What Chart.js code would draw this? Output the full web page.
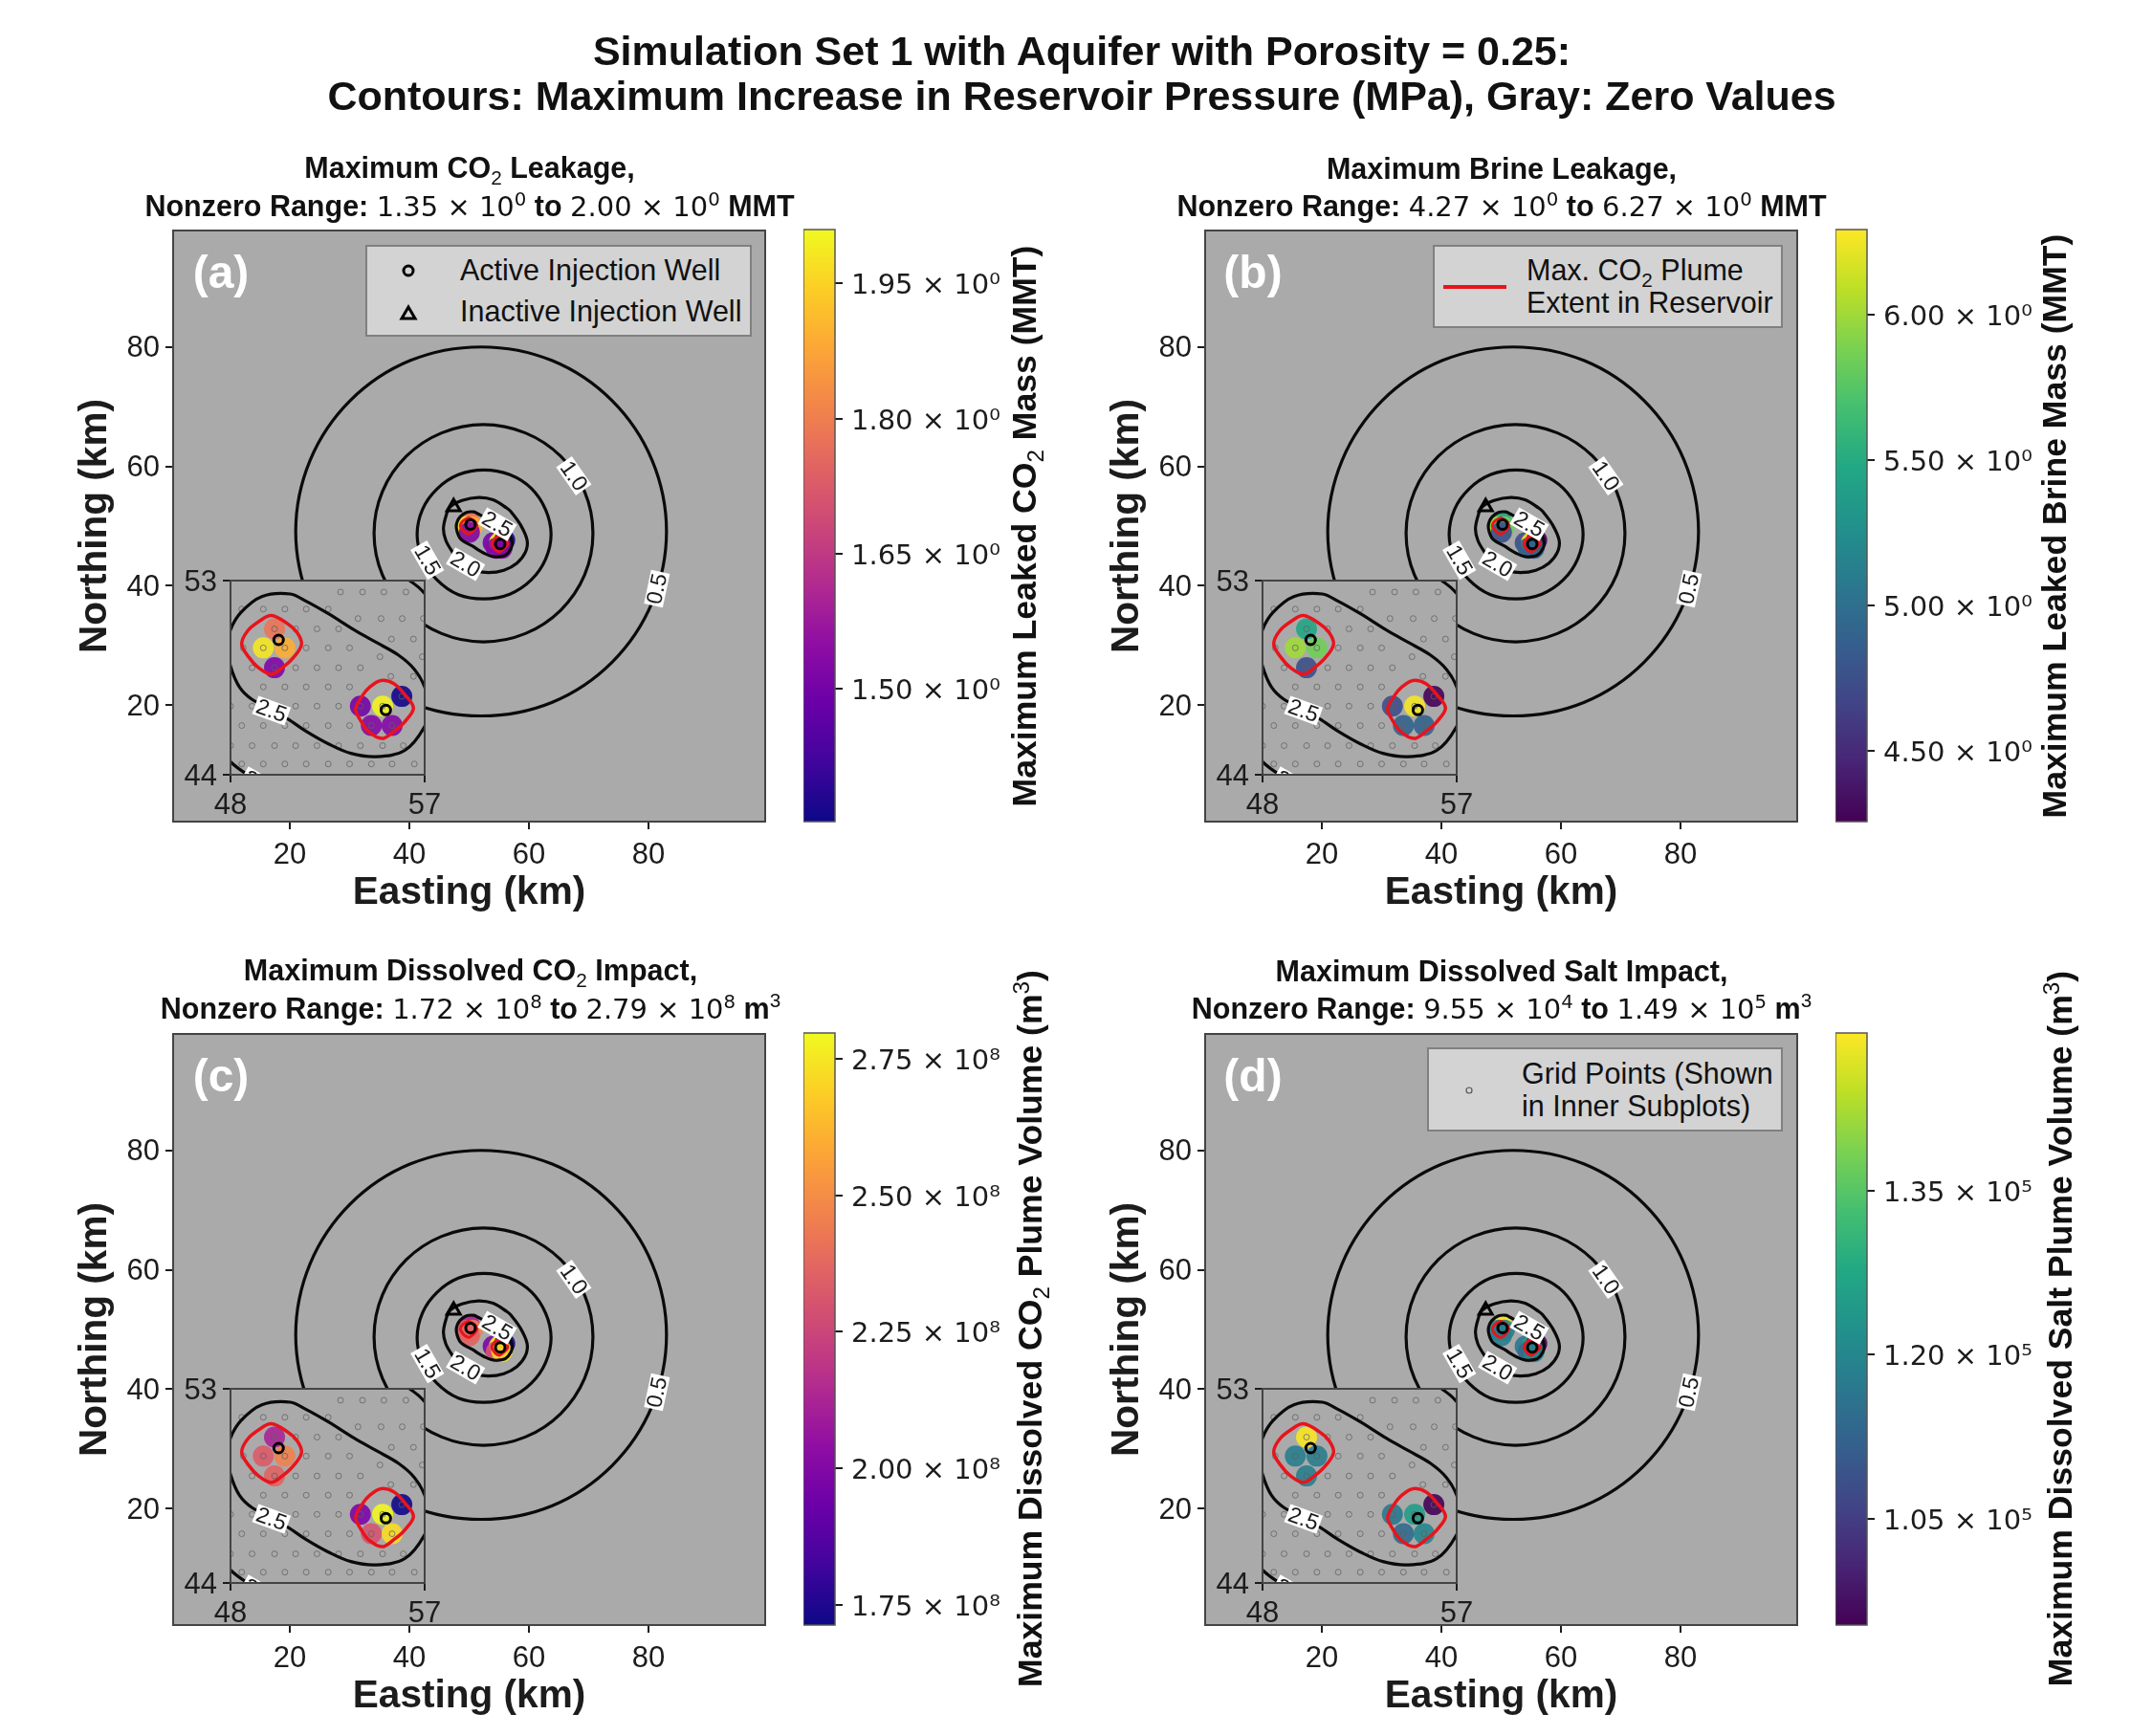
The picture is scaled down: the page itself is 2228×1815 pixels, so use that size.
<!DOCTYPE html>
<html>
<head>
<meta charset="utf-8">
<script src="https://cdn.jsdelivr.net/npm/chart.js@4"></script>
<style>
html, body { margin: 0; background: #fff; }
#page { position: relative; width: 2228px; height: 1815px; overflow: hidden; filter: blur(0.6px); font-family: "Liberation Sans", Arial, sans-serif; color: #111; }
canvas { position: absolute; }
.txt { position: absolute; white-space: nowrap; transform: translate(-50%, -50%); font-weight: bold; }
.main { font-size: 43px; }
.sub { font-size: 30.5px; }
.m { font-family: "DejaVu Sans", sans-serif; font-weight: normal; font-size: 0.95em; }
sub, sup { font-size: 0.68em; line-height: 0; font-weight: normal; }
.cb { font-size: 35.6px; transform: translate(-50%, -50%) rotate(-90deg); }
.letter { font-size: 48px; color: #fff; }
.legend { position: absolute; background: #d3d3d3; border: 2px solid #808080; box-sizing: border-box; font-size: 30.5px; z-index: 5; }
.legend span { position: absolute; white-space: nowrap; line-height: 32px; }
.legend svg { position: absolute; left: 0; top: 0; }
</style>
</head>
<body>
<div id="page">
  <div class="txt main" style="left:1131px;top:53px">Simulation Set 1 with Aquifer with Porosity = 0.25:</div>
  <div class="txt main" style="left:1131px;top:100px">Contours: Maximum Increase in Reservoir Pressure (MPa), Gray: Zero Values</div>

  <div class="txt sub" style="left:491px;top:175px">Maximum CO<sub>2</sub> Leakage,</div>
  <div class="txt sub" style="left:491px;top:215px">Nonzero Range: <span class="m">1.35 × 10<sup>0</sup></span> to <span class="m">2.00 × 10<sup>0</sup></span> MMT</div>
  <div class="txt sub" style="left:1570px;top:176px">Maximum Brine Leakage,</div>
  <div class="txt sub" style="left:1570px;top:215px">Nonzero Range: <span class="m">4.27 × 10<sup>0</sup></span> to <span class="m">6.27 × 10<sup>0</sup></span> MMT</div>
  <div class="txt sub" style="left:492px;top:1014px">Maximum Dissolved CO<sub>2</sub> Impact,</div>
  <div class="txt sub" style="left:492px;top:1054px">Nonzero Range: <span class="m">1.72 × 10<sup>8</sup></span> to <span class="m">2.79 × 10<sup>8</sup></span> m<sup>3</sup></div>
  <div class="txt sub" style="left:1570px;top:1015px">Maximum Dissolved Salt Impact,</div>
  <div class="txt sub" style="left:1570px;top:1054px">Nonzero Range: <span class="m">9.55 × 10<sup>4</sup></span> to <span class="m">1.49 × 10<sup>5</sup></span> m<sup>3</sup></div>

  <div class="txt cb" style="left:1071px;top:550px">Maximum Leaked CO<sub>2</sub> Mass (MMT)</div>
  <div class="txt cb" style="left:2148px;top:550px">Maximum Leaked Brine Mass (MMT)</div>
  <div class="txt cb" style="left:1077px;top:1389px">Maximum Dissolved CO<sub>2</sub> Plume Volume (m<sup>3</sup>)</div>
  <div class="txt cb" style="left:2154px;top:1389px">Maximum Dissolved Salt Plume Volume (m<sup>3</sup>)</div>

  <div class="legend" style="left:382px;top:256px;width:404px;height:96px">
    <svg width="404" height="96">
      <circle cx="43" cy="25" r="5" fill="none" stroke="#000" stroke-width="3"/>
      <path d="M43 63 L50 75 L36 75 Z" fill="none" stroke="#000" stroke-width="3"/>
    </svg>
    <span style="left:97px;top:8px">Active Injection Well</span>
    <span style="left:97px;top:51px">Inactive Injection Well</span>
  </div>
  <div class="legend" style="left:1498px;top:256px;width:366px;height:87px">
    <svg width="366" height="87"><line x1="9" y1="42" x2="75" y2="42" stroke="#e8141c" stroke-width="4"/></svg>
    <span style="left:96px;top:8px">Max. CO<sub>2</sub> Plume</span>
    <span style="left:96px;top:42px">Extent in Reservoir</span>
  </div>
  <div class="legend" style="left:1492px;top:1095px;width:372px;height:88px">
    <svg width="372" height="88"><circle cx="42" cy="43" r="3" fill="none" stroke="#555" stroke-width="1.2"/></svg>
    <span style="left:97px;top:9px">Grid Points (Shown</span>
    <span style="left:97px;top:43px">in Inner Subplots)</span>
  </div>
</div>

<script>
// Axis ticks
const mainTicks = [20, 40, 60, 80];
const insetXTicks = [48, 57];
const insetYTicks = [44, 53];

// Pressure contours in km (a) and the inset
const contour05 = [[52,80],[63.9,77.7],[73.9,71],[80.6,61],[83,49.1],[80.6,37.2],[73.9,27.2],[63.9,20.5],[52,18.2],[40.1,20.5],[30.1,27.2],[23.4,37.2],[21,49.1],[23.4,61],[30.1,71],[40.1,77.7]];
const contour10 = [[52.4,67],[59.4,65.6],[65.3,61.7],[69.3,55.8],[70.7,48.8],[69.3,41.8],[65.3,35.9],[59.4,32],[52.4,30.6],[45.4,32],[39.5,35.9],[35.5,41.8],[34.1,48.8],[35.5,55.8],[39.5,61.7],[45.4,65.6]];
const contour15 = [[52.5,59.4],[56.8,58.6],[60.4,56.3],[62.8,52.7],[63.7,48.6],[62.8,44.5],[60.4,41],[56.8,38.6],[52.5,37.8],[48.2,38.5],[44.6,41],[42.2,44.5],[41.3,48.6],[42.2,52.8],[44.6,56.2],[48.2,58.6]];
const contour20 = [[51.6,54.8],[54,54.4],[56.3,53],[57,52.4],[58.6,50.2],[59.7,47.6],[59.4,45.6],[58,43.8],[55.8,42.6],[53.2,42.2],[51.2,42.6],[48.8,44],[48,44.6],[47.3,45.5],[46.1,47.6],[45.7,49.5],[46.1,51.6],[46.8,53.2],[48.8,54.3]];
const contour25 = [[48,50.72],[48.49,51.53],[49.45,52.26],[50.77,52.38],[51.51,52.04],[52.54,51.46],[53.72,50.72],[54.76,50.13],[55.79,49.54],[56.53,48.88],[57,48.07],[57.19,47.12],[57,46.24],[56.08,45.13],[54.76,44.84],[53.58,44.99],[52.54,45.43],[51.51,46.01],[50.63,46.6],[49,47.49],[48.41,48.07],[48,49.03],[47.85,49.91]];

// CO2 plume outlines
const plumeLeft = [[49.89,51.38],[50.63,51.01],[51.1,50.57],[51.29,50.03],[50.89,49.4],[50.4,48.96],[49.89,48.66],[49.3,48.96],[48.83,49.47],[48.52,50.06],[48.78,50.65],[49.3,51.09]];
const plumeRight = [[54.98,48.37],[55.57,48.22],[56.08,47.71],[56.48,47.09],[56.08,46.46],[55.57,46.01],[55.02,45.68],[54.39,46.01],[54.02,46.53],[53.8,47.04],[54.09,47.63],[54.46,48.07]];

// Contour labels: text, x km, y km, rotation in degrees
const contourLabels = [["0.5",81.4,39.5,-78],["1.0",67.5,58.4,55],["1.5",43,44.3,60],["2.0",49.4,43.6,30],["2.5",54.7,50.3,30]];
const insetLabels = [["2.5",49.9,46.97,20],["2.0",49.3,43.6,30]];

// Wells
const activeWells = [[50.23,50.25],[55.2,47]];
const inactiveWells = [[47.4,53.2]];

// Locations with nonzero impact, one value per location in each panel
const impactX = [50.04,49.52,50.52,50.04,54.02,55.05,55.94,54.53,55.49];
const impactY = [50.76,49.88,49.88,48.96,47.18,47.18,47.63,46.28,46.28];
const valuesA = [1.78,1.98,1.89,1.52,1.5,2,1.36,1.53,1.53];
const valuesB = [5.45,6,5.85,4.75,4.75,6.27,4.27,4.9,4.9];
const valuesC = [2.12,2.33,2.46,2.36,1.98,2.79,1.72,2.3,2.72];
const valuesD = [1.49,1.18,1.18,1.18,1.17,1.25,0.955,1.14,1.2];

// Grid points of the inner subplots
const gridPoints = [
  [53.1,52.47],[54.12,52.47],[55.11,52.47],[56.13,52.47],
  [48.52,51.68],[49.52,51.68],[50.52,51.68],[51.51,51.68],[52.53,51.68],
  [53.91,51.24],[54.98,51.24],[55.96,51.24],[56.94,51.24],
  [50.04,50.76],[51.02,50.76],[52.01,50.76],[53.01,50.76],
  [55.46,50.29],[56.48,50.29],
  [48.59,49.88],[49.52,49.88],[50.52,49.88],[51.51,49.88],[52.53,49.88],[53.52,49.88],
  [54.93,49.47],[56.89,49.47],
  [49,48.96],[50.04,48.96],[51.02,48.96],[52.01,48.96],[53.01,48.96],[54.02,48.96],
  [55.43,48.56],[56.48,48.56],
  [49.52,48.07],[50.52,48.07],[51.51,48.07],[52.53,48.07],[53.52,48.07],
  [55.94,47.63],
  [48,47.18],[49,47.18],[50.04,47.18],[51.02,47.18],[52.01,47.18],[53.01,47.18],[54.02,47.18],[55.05,47.18],
  [48.52,46.28],[49.52,46.28],[50.52,46.28],[51.51,46.28],[52.53,46.28],[53.52,46.28],[54.53,46.28],[55.49,46.28],
  [48,45.35],[49,45.35],[50.04,45.35],[51.02,45.35],[52.01,45.35],[53.01,45.35],[54.02,45.35],[55.05,45.35],[56.01,45.35],
  [48.52,44.5],[49.52,44.5],[50.52,44.5],[51.51,44.5],[52.53,44.5],[53.52,44.5],[54.53,44.5],[55.49,44.5],[56.52,44.5]
];

// Colorbar ticks and ranges
const cbTicksA = [1.5,1.65,1.8,1.95];
const cbLabelsA = ["1.50 × 10⁰","1.65 × 10⁰","1.80 × 10⁰","1.95 × 10⁰"];
const cbTicksB = [4.5,5,5.5,6];
const cbLabelsB = ["4.50 × 10⁰","5.00 × 10⁰","5.50 × 10⁰","6.00 × 10⁰"];
const cbTicksC = [1.75,2,2.25,2.5,2.75];
const cbLabelsC = ["1.75 × 10⁸","2.00 × 10⁸","2.25 × 10⁸","2.50 × 10⁸","2.75 × 10⁸"];
const cbTicksD = [1.05,1.2,1.35];
const cbLabelsD = ["1.05 × 10⁵","1.20 × 10⁵","1.35 × 10⁵"];

const plasma = ["#0d0887","#41049d","#6a00a8","#8f0da4","#b12a90","#cc4778","#e16462","#f2844b","#fca636","#fcce25","#f0f921"];
const viridis = ["#440154","#482475","#414487","#355f8d","#2a788e","#21918c","#22a884","#44bf70","#7ad151","#bddf26","#fde725"];

const panels = [
  { left: 181, top: 240, insetTop: 607, letter: "(a)", values: valuesA, stops: plasma, min: 1.352, max: 2.01, ticks: cbTicksA, labels: cbLabelsA },
  { left: 1260, top: 240, insetTop: 607, letter: "(b)", values: valuesB, stops: viridis, min: 4.257, max: 6.294, ticks: cbTicksB, labels: cbLabelsB },
  { left: 181, top: 1080, insetTop: 1452, letter: "(c)", values: valuesC, stops: plasma, min: 1.713, max: 2.797, ticks: cbTicksC, labels: cbLabelsC },
  { left: 1260, top: 1080, insetTop: 1452, letter: "(d)", values: valuesD, stops: viridis, min: 0.953, max: 1.494, ticks: cbTicksD, labels: cbLabelsD }
];

const GRAY = "#aaaaaa";
const INK = "#1c1c1c";
const TICK_SIZE = 31;
const page = document.getElementById("page");

function addCanvas(left, top, width, height, zIndex) {
  const canvas = document.createElement("canvas");
  canvas.width = width;
  canvas.height = height;
  canvas.style.left = left + "px";
  canvas.style.top = top + "px";
  canvas.style.width = width + "px";
  canvas.style.height = height + "px";
  canvas.style.zIndex = zIndex;
  page.appendChild(canvas);
  return canvas.getContext("2d");
}

function toPoints(pairs) {
  return pairs.map(([x, y]) => ({ x, y }));
}

// Chart.js would reserve half a tick label past the plot area, keep the area exact
function fixScale(scale, width, height) {
  if (width) scale.width = width;
  if (height) scale.height = height;
  scale.paddingTop = 0;
  scale.paddingBottom = 0;
  scale.paddingLeft = 0;
  scale.paddingRight = 0;
}

function hexToRgb(hex) {
  return [1, 3, 5].map(i => parseInt(hex.slice(i, i + 2), 16));
}

function colorFor(value, panel) {
  let t = (value - panel.min) / (panel.max - panel.min);
  t = Math.min(1, Math.max(0, t)) * (panel.stops.length - 1);
  const i = Math.min(Math.floor(t), panel.stops.length - 2);
  const a = hexToRgb(panel.stops[i]);
  const b = hexToRgb(panel.stops[i + 1]);
  const c = a.map((v, k) => Math.round(v + (b[k] - v) * (t - i)));
  return `rgba(${c[0]},${c[1]},${c[2]},0.9)`;
}

// Gray plot background and dark frame
const framePlugin = {
  id: "frame",
  beforeDraw(chart) {
    const a = chart.chartArea;
    chart.ctx.save();
    chart.ctx.fillStyle = GRAY;
    chart.ctx.fillRect(a.left, a.top, a.width, a.height);
    chart.ctx.restore();
  },
  afterDraw(chart) {
    const a = chart.chartArea;
    chart.ctx.save();
    chart.ctx.strokeStyle = "#444";
    chart.ctx.lineWidth = 2;
    chart.ctx.strokeRect(a.left, a.top, a.width, a.height);
    chart.ctx.restore();
  }
};

// White boxed labels sitting on the contours
function labelPlugin(labels) {
  return {
    id: "contourLabels",
    afterDatasetsDraw(chart) {
      const ctx = chart.ctx;
      const a = chart.chartArea;
      ctx.save();
      ctx.beginPath();
      ctx.rect(a.left, a.top, a.width, a.height);
      ctx.clip();
      ctx.font = '23px "Liberation Sans"';
      ctx.textAlign = "center";
      ctx.textBaseline = "middle";
      labels.forEach(([text, x, y, angle]) => {
        ctx.save();
        ctx.translate(chart.scales.x.getPixelForValue(x), chart.scales.y.getPixelForValue(y));
        ctx.rotate(angle * Math.PI / 180);
        ctx.fillStyle = "#fff";
        ctx.fillRect(-18, -10, 36, 20);
        ctx.fillStyle = INK;
        ctx.fillText(text, 0, 1);
        ctx.restore();
      });
      ctx.restore();
    }
  };
}

// A closed line: the points run on past the start, the two loose end pieces are hidden
function closedLine(pairs, color, width, order) {
  const points = toPoints(pairs.concat(pairs.slice(0, 3)));
  const last = points.length - 1;
  return {
    data: points,
    showLine: true,
    tension: 0.35,
    borderColor: color,
    borderWidth: width,
    pointRadius: 0,
    order,
    segment: {
      borderColor: s => (s.p0DataIndex === 0 || s.p1DataIndex === last) ? "rgba(0,0,0,0)" : undefined
    }
  };
}

function contourDatasets() {
  return [contour05, contour10, contour15, contour20, contour25].map(pairs => closedLine(pairs, "#0a0a0a", 3.2, 3));
}

function plumeDatasets(width) {
  return [plumeLeft, plumeRight].map(pairs => closedLine(pairs, "#e8141c", width, 2));
}

function impactDataset(panel) {
  return {
    data: impactX.map((x, i) => ({ x, y: impactY[i] })),
    backgroundColor: panel.values.map(v => colorFor(v, panel)),
    borderWidth: 0,
    pointRadius: 11,
    order: 5
  };
}

function wellDatasets() {
  return [
    { data: toPoints(activeWells), pointStyle: "circle", pointRadius: 5, borderWidth: 3, borderColor: "#000", backgroundColor: "rgba(0,0,0,0)", order: 1 },
    { data: toPoints(inactiveWells), pointStyle: "triangle", pointRadius: 8, borderWidth: 3, borderColor: "#000", backgroundColor: "rgba(0,0,0,0)", order: 1 }
  ];
}

function axis(ticks, min, max, tickPadding, labelOffset, extra) {
  return Object.assign({
    type: "linear",
    min,
    max,
    afterBuildTicks(scale) { scale.ticks = ticks.map(value => ({ value })); },
    grid: { drawOnChartArea: false, drawTicks: true, tickLength: 8, color: INK, lineWidth: 2 },
    border: { display: false },
    ticks: { color: INK, padding: tickPadding, labelOffset, maxRotation: 0, autoSkip: false, font: { family: "Liberation Sans", size: TICK_SIZE } }
  }, extra);
}

function drawMain(panel) {
  const padLeft = 121, padTop = 10, padBottom = 100, size = 619;
  const ctx = addCanvas(panel.left - padLeft, panel.top - padTop, padLeft + size + 20, padTop + size + padBottom, 1);
  new Chart(ctx, {
    type: "scatter",
    data: { datasets: [impactDataset(panel), ...contourDatasets(), ...plumeDatasets(3), ...wellDatasets()] },
    options: {
      responsive: false,
      animation: false,
      events: [],
      layout: { padding: { top: padTop, right: 20 } },
      plugins: { legend: { display: false }, tooltip: { enabled: false } },
      scales: {
        x: axis(mainTicks, 0.5, 99.5, 9, 0, {
          afterFit(scale) { fixScale(scale, 0, padBottom); },
          title: { display: true, text: "Easting (km)", color: INK, padding: { top: 0, bottom: 1 }, font: { family: "Liberation Sans", size: 40.6, weight: "bold" } }
        }),
        y: axis(mainTicks, 0.5, 99.5, 6, 2, {
          afterFit(scale) { fixScale(scale, padLeft, 0); },
          title: { display: true, text: "Northing (km)", color: INK, padding: { top: 15, bottom: 0 }, font: { family: "Liberation Sans", size: 40.6, weight: "bold" } }
        })
      }
    },
    plugins: [framePlugin, labelPlugin(contourLabels)]
  });
}

function drawInset(panel) {
  const padLeft = 70, padTop = 20, padBottom = 54, size = 203;
  const left = panel.left + 60, top = panel.insetTop;
  const ctx = addCanvas(left - padLeft, top - padTop, padLeft + size + 26, padTop + size + padBottom, 2);
  new Chart(ctx, {
    type: "scatter",
    data: {
      datasets: [
        impactDataset(panel),
        { data: toPoints(gridPoints), pointRadius: 3, borderWidth: 1, borderColor: "rgba(95,95,95,0.75)", backgroundColor: "rgba(0,0,0,0)", order: 4 },
        ...contourDatasets(),
        ...plumeDatasets(3.5),
        wellDatasets()[0]
      ]
    },
    options: {
      responsive: false,
      animation: false,
      events: [],
      layout: { padding: { top: padTop, right: 26 } },
      plugins: { legend: { display: false }, tooltip: { enabled: false } },
      scales: {
        x: axis(insetXTicks, 48, 57, 6, 0, { afterFit(scale) { fixScale(scale, 0, padBottom); } }),
        y: axis(insetYTicks, 44, 53, 6, 2, { afterFit(scale) { fixScale(scale, padLeft, 0); } })
      }
    },
    plugins: [framePlugin, labelPlugin(insetLabels)]
  });
}

function drawColorbar(panel) {
  const barWidth = 33, labelWidth = 190, padY = 10, size = 619;
  const ctx = addCanvas(panel.left + 659, panel.top - padY, barWidth + labelWidth, size + padY * 2, 1);
  new Chart(ctx, {
    type: "bar",
    data: {
      labels: [""],
      datasets: [{
        data: [[panel.min, panel.max]],
        barPercentage: 1,
        categoryPercentage: 1,
        backgroundColor(context) {
          const a = context.chart.chartArea;
          if (!a) return panel.stops[0];
          const gradient = context.chart.ctx.createLinearGradient(0, a.bottom, 0, a.top);
          panel.stops.forEach((c, i) => gradient.addColorStop(i / (panel.stops.length - 1), c));
          return gradient;
        }
      }]
    },
    options: {
      responsive: false,
      animation: false,
      events: [],
      layout: { padding: { top: padY, bottom: padY } },
      plugins: { legend: { display: false }, tooltip: { enabled: false } },
      scales: {
        x: { display: false },
        y: {
          position: "right",
          min: panel.min,
          max: panel.max,
          afterFit(scale) { fixScale(scale, labelWidth, 0); },
          afterBuildTicks(scale) { scale.ticks = panel.ticks.map(value => ({ value })); },
          grid: { drawOnChartArea: false, tickLength: 8, color: INK, lineWidth: 2 },
          border: { display: false },
          ticks: {
            color: INK,
            padding: 9,
            labelOffset: 3.5,
            autoSkip: false,
            font: { family: "DejaVu Sans", size: 29 },
            callback(value) { return panel.labels[panel.ticks.indexOf(value)]; }
          }
        }
      }
    },
    plugins: [{
      id: "barFrame",
      afterDraw(chart) {
        const a = chart.chartArea;
        chart.ctx.save();
        chart.ctx.strokeStyle = "#555";
        chart.ctx.lineWidth = 1.5;
        chart.ctx.strokeRect(a.left, a.top, a.width, a.height);
        chart.ctx.restore();
      }
    }]
  });
}

panels.forEach(panel => {
  drawMain(panel);
  drawInset(panel);
  drawColorbar(panel);
  const letter = document.createElement("div");
  letter.className = "txt letter";
  letter.style.left = (panel.left + 50) + "px";
  letter.style.top = (panel.top + 44) + "px";
  letter.style.zIndex = 4;
  letter.textContent = panel.letter;
  page.appendChild(letter);
});
</script>
</body>
</html>
